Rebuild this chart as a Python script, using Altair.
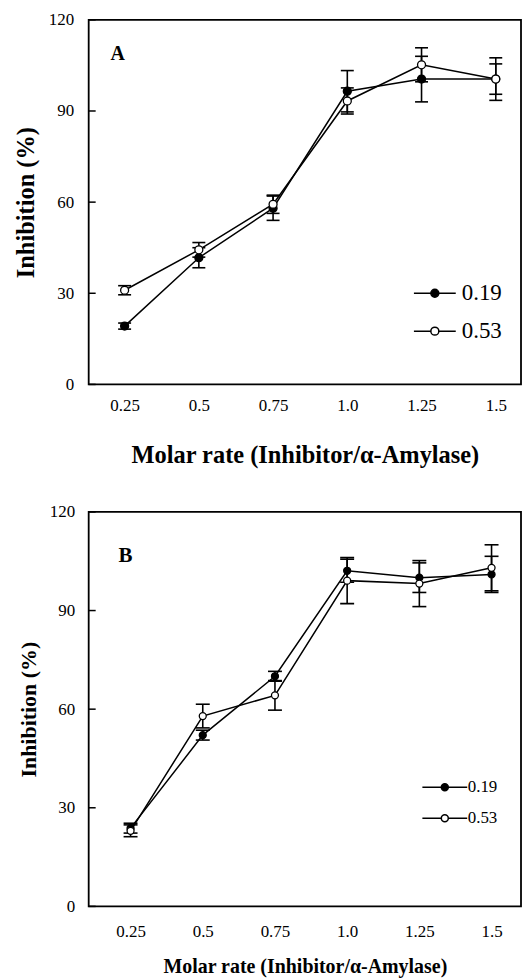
import altair as alt
import pandas as pd

# ---------------- data ----------------
x_vals = [0.25, 0.5, 0.75, 1.0, 1.25, 1.5]
y_ticks = [0, 30, 60, 90, 120]
series_names = ["0.19", "0.53"]
panel_labels = ["A", "B"]

# Panel A
a_019 = [19.2, 41.7, 58.0, 96.5, 100.5, 100.5]
a_019_err = [1.0, 3.3, 4.0, 6.8, 7.5, 7.0]
a_053 = [31.0, 44.3, 59.3, 93.3, 105.2, 100.5]
a_053_err = [1.5, 2.4, 3.0, 4.3, 5.6, 5.0]

# Panel B
b_019 = [23.8, 52.1, 70.0, 102.1, 100.0, 101.0]
b_019_err = [1.5, 1.5, 1.5, 3.5, 4.5, 5.5]
b_053 = [23.0, 57.9, 64.2, 99.1, 98.2, 103.0]
b_053_err = [1.8, 3.6, 4.5, 7.0, 7.0, 7.0]

FONT = "Liberation Serif"
X_TITLE = "Molar rate (Inhibitor/\u03b1-Amylase)"
Y_TITLE = "Inhibition (%)"


def panel_df(v1, e1, v2, e2):
    rows = []
    for name, vals, errs in ((series_names[0], v1, e1), (series_names[1], v2, e2)):
        for x, v, e in zip(x_vals, vals, errs):
            rows.append({"x": x, "y": v, "lo": v - e, "hi": v + e, "series": name})
    return pd.DataFrame(rows)


def make_panel(df, label, p):
    xscale = alt.Scale(domain=p["xdom"], nice=False, zero=False)
    yscale = alt.Scale(domain=[0, 120], nice=False)
    xaxis = alt.Axis(
        values=x_vals, title=X_TITLE, grid=False, ticks=False, domain=False,
        labelExpr="datum.value == 1 ? '1.0' : '' + datum.value",
        labelFont=FONT, labelFontSize=p["lab_fs"], labelColor="black",
        labelPadding=p["xlab_pad"], labelFlush=False, labelOverlap=False,
        titleFont=FONT, titleFontSize=p["xt_fs"], titleFontWeight="bold",
        titleColor="black", titlePadding=p["xt_pad"],
    )
    yaxis = alt.Axis(
        values=y_ticks, title=Y_TITLE, grid=False, ticks=False, domain=False,
        labelFont=FONT, labelFontSize=p["lab_fs"], labelColor="black",
        labelPadding=p["ylab_pad"],
        titleFont=FONT, titleFontSize=p["yt_fs"], titleFontWeight="bold",
        titleColor="black", titlePadding=p["yt_pad"],
    )

    def X(f):
        return alt.X(f"{f}:Q", scale=xscale, axis=xaxis)

    def Y(f):
        return alt.Y(f"{f}:Q", scale=yscale, axis=yaxis)

    base = alt.Chart(df)
    lines = base.mark_line(color="black", strokeWidth=1.5).encode(
        x=X("x"), y=Y("y"), detail="series:N"
    )
    err = base.mark_rule(color="black", strokeWidth=1.6).encode(
        x=X("x"), y=Y("lo"), y2="hi"
    )
    cap_lo = base.mark_tick(orient="horizontal", size=p["cap"], thickness=1.6,
                            color="black", opacity=1).encode(x=X("x"), y=Y("lo"))
    cap_hi = base.mark_tick(orient="horizontal", size=p["cap"], thickness=1.6,
                            color="black", opacity=1).encode(x=X("x"), y=Y("hi"))
    legend = alt.Legend(
        orient="none", legendX=p["legx"], legendY=p["legy"], title=None,
        symbolType=p["sym_path"], symbolSize=p["pt_size"],
        symbolStrokeColor="black", symbolStrokeWidth=1.5, symbolOpacity=1,
        labelFont=FONT, labelFontSize=p["leg_fs"], labelColor="black",
        labelOffset=p["leg_lo"], rowPadding=p["leg_rp"], padding=0,
    )
    points = base.mark_point(shape="circle", filled=True, size=p["pt_size"],
                             stroke="black", strokeWidth=1.3, opacity=1).encode(
        x=X("x"), y=Y("y"),
        fill=alt.Fill("series:N",
                      scale=alt.Scale(domain=series_names, range=["black", "white"]),
                      legend=legend),
    )
    ticks = alt.Chart(pd.DataFrame({"y": y_ticks})).mark_rule(
        color="black", strokeWidth=1.5
    ).encode(y=Y("y"), x=alt.value(0), x2=alt.value(7))
    letter = alt.Chart(pd.DataFrame({"label": [label]})).mark_text(
        font=FONT, fontSize=p["t_fs"], fontWeight="bold", color="black",
        align="left", baseline="alphabetic",
    ).encode(text="label:N", x=alt.value(p["tdx"]), y=alt.value(p["tdy"]))

    return alt.layer(lines, err, cap_lo, cap_hi, points, ticks, letter).properties(
        width=434, height=p["h"]
    )


params_a = dict(
    xdom=[0.129, 1.585], h=366, lab_fs=17, xlab_pad=13, xt_fs=24.5, xt_pad=30,
    ylab_pad=15, yt_fs=24.5, yt_pad=10, cap=13, pt_size=64,
    sym_path="M-5.25,0H-1M1,0H5.25M1,0A1,1,0,1,1,-1,0A1,1,0,1,1,1,0Z",
    legx=336, legy=263, leg_fs=23, leg_lo=15.5, leg_rp=14,
    tdx=22, tdy=40, t_fs=20,
)
params_b = dict(
    xdom=[0.105, 1.602], h=396, lab_fs=17, xlab_pad=17, xt_fs=20, xt_pad=17,
    ylab_pad=14, yt_fs=22, yt_pad=9, cap=14, pt_size=49,
    sym_path="M-6.43,0H-1M1,0H6.43M1,0A1,1,0,1,1,-1,0A1,1,0,1,1,1,0Z",
    legx=349, legy=268, leg_fs=17, leg_lo=14.5, leg_rp=13,
    tdx=30, tdy=50, t_fs=21,
)

panel_a = make_panel(panel_df(a_019, a_019_err, a_053, a_053_err), panel_labels[0], params_a)
panel_b = make_panel(panel_df(b_019, b_019_err, b_053, b_053_err), panel_labels[1], params_b)

chart = (
    alt.vconcat(panel_a, panel_b, spacing=34)
    .resolve_scale(x="independent", y="independent", fill="independent")
    .resolve_legend(fill="independent")
    .properties(padding={"left": 4, "top": 0, "right": 0, "bottom": 0})
    .configure(background="white", font=FONT)
    .configure_view(stroke="black", strokeWidth=1.8)
    .configure_legend(labelFont=FONT)
)

chart.save("out.html", embed_options={"renderer": "svg", "actions": False})
